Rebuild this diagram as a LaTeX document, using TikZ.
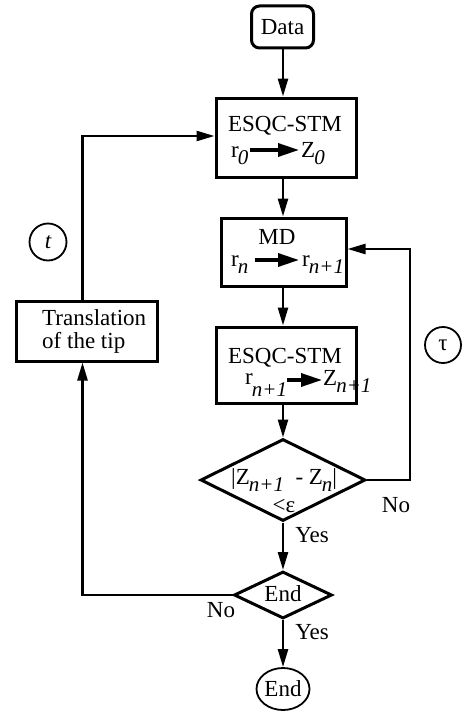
\documentclass[tikz,border=0pt]{standalone}
\usepackage{fontspec}
\setmainfont{Liberation Serif}
\usetikzlibrary{arrows.meta,shapes.geometric}

% lowered italic index, nearly full size
\newcommand{\lowsub}[2][7pt]{\kern-1pt\raisebox{-#1}{\fontsize{21}{21}\selectfont\itshape #2}}

\tikzset{
  txt/.style={inner sep=0pt, font=\fontsize{23}{26}\selectfont},
  box/.style={draw, line width=3pt, inner sep=0pt},
  cond/.style={draw, diamond, line width=3pt, inner sep=0pt},
  ring/.style={draw, circle, line width=1.8pt, inner sep=0pt, minimum size=37pt},
  flow/.style={line width=2.5pt, -{Triangle[length=18pt,width=10pt]}},
  inarrow/.style={line width=3.4pt, -{Triangle[length=21pt,width=13pt]}}
}

\begin{document}
\begin{tikzpicture}[x=1pt, y=-1pt]
\useasboundingbox (0,0) rectangle (462,717);
\coordinate (spine) at (283,0);

% start
\node[box, rounded corners=8pt, minimum width=62pt, minimum height=42pt,
      font=\fontsize{23}{26}\selectfont] (data) at (282.5,27) {Data};

% first tunnelling-current computation
\node[box, minimum width=140pt, minimum height=79pt] (esqcA) at (286,137.5) {};
\node[txt, anchor=base] (esqcAt) at (285,131) {ESQC-STM};
\node[txt, anchor=base west] (rA) at (231,157) {r\lowsub{0}};
\node[txt, anchor=base west] (zA) at (301,157) {Z\lowsub{0}};
\draw[inarrow] ([xshift=1pt,yshift=7pt]rA.base east) -- ([xshift=-2pt,yshift=7pt]zA.base west);

% molecular dynamics step
\node[box, minimum width=125pt, minimum height=68pt] (md) at (283.5,252) {};
\node[txt, anchor=base] (mdt) at (277,244) {MD};
\node[txt, anchor=base west] (rB) at (231,266) {r\lowsub{n}};
\node[txt, anchor=base west] (rC) at (302,266) {r\lowsub{n+1}};
\draw[inarrow] ([xshift=6pt,yshift=6pt]rB.base east) -- ([xshift=-3pt,yshift=6pt]rC.base west);

% second tunnelling-current computation
\node[box, minimum width=140pt, minimum height=76pt] (esqcB) at (286,365) {};
\node[txt, anchor=base] (esqcBt) at (285,363) {ESQC-STM};
\node[txt, anchor=base west] (rD) at (245,384) {r\lowsub[12pt]{n+1}};
\node[txt, anchor=base west] (zD) at (323,385) {Z\lowsub{n+1}};
\draw[inarrow] ([xshift=0pt,yshift=4pt]rD.base east) -- ([xshift=-1pt,yshift=5pt]zD.base west);

% convergence test
\node[cond, minimum width=165pt, minimum height=82pt] (testA) at (283,480) {};
\node[txt, anchor=base west] (testAa) at (231,484) {|Z\lowsub{n+1}\ \ - Z\lowsub{n}|};
\node[txt, anchor=base] (testAb) at (284,512) {<ε};

% end test
\node[cond, minimum width=98pt, minimum height=47pt] (testB) at (283,595) {};
\node[txt] (testBt) at (283,594) {End};

% stop
\node[draw, ellipse, line width=1.8pt, inner sep=0pt, minimum width=53pt, minimum height=42pt,
      font=\fontsize{23}{26}\selectfont] (stop) at (283,689) {End};

% tip translation
\node[box, minimum width=141pt, minimum height=60pt] (transl) at (86.5,331) {};
\node[txt, anchor=base west] (translA) at (42,325) {Translation};
\node[txt, anchor=base west] (translB) at (42,348) {of the tip};

% loop markers
\node[ring, font=\fontsize{23}{26}\selectfont\itshape] (tmark) at (48,242) {t};
\node[ring, minimum size=36pt, font=\fontsize{23}{26}\selectfont] (taumark) at (443,345) {τ};

% main column
\draw[flow] (data.south -| spine) -- (esqcA.north -| spine);
\draw[flow] (esqcA.south -| spine) -- (md.north -| spine);
\draw[flow] (md.south -| spine) -- (esqcB.north -| spine);
\draw[flow] (esqcB.south -| spine) -- (testA.north);
\draw[flow] (testA.south) -- (testB.north);
\draw[flow] (testB.south) -- (stop.north);

% inner loop back to MD
\draw[flow] (testA.east) -- ++(43,0) |- ([yshift=3pt]md.east);

% outer loop through the tip translation
\draw[flow] (testB.west) -| ([xshift=-4pt]transl.south);
\draw[flow] ([xshift=-4pt]transl.north) |- ([yshift=1.5pt]esqcA.west);

% branch labels
\node[txt] (noA) at (396,505) {No};
\node[txt] (yesA) at (312,535) {Yes};
\node[txt] (noB) at (221,610) {No};
\node[txt] (yesB) at (312,632) {Yes};
\end{tikzpicture}
\end{document}
